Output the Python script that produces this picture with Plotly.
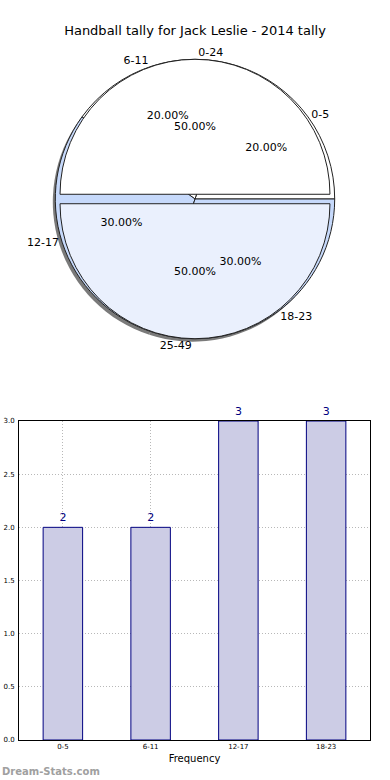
import plotly.graph_objects as go

title = "Handball tally for Jack Leslie - 2014 tally"
half_labels = ["0-24", "25-49"]
half_values = [5, 5]
age_labels = ["0-5", "6-11", "12-17", "18-23"]
age_values = [2, 2, 3, 3]

FONT = "DejaVu Sans"
W, H = 390, 780

def px_dom(x0, x1, y0, y1):
    return dict(x=[x0 / W, x1 / W], y=[1 - y1 / H, 1 - y0 / H])

def start_rot(vals):
    # plotly (counterclockwise): first slice ends at `rotation`; make it start at 3 o'clock
    return 90 - 360.0 * vals[0] / sum(vals)

rot_half = start_rot(half_values)
rot_age = start_rot(age_values)

pie_dom = px_dom(55.3, 334.7, 59.3, 338.7)
shadow_dom = px_dom(52.8, 332.2, 62.3, 341.7)

fig = go.Figure()

# shadow
fig.add_trace(go.Pie(values=age_values, labels=age_labels, sort=False, direction="counterclockwise",
                     rotation=rot_age, domain=shadow_dom, textinfo="none", hoverinfo="skip",
                     marker=dict(colors=["#7a7a7a"] * 4, line=dict(width=0)), showlegend=False))
# 4-slice pie (underneath)
fig.add_trace(go.Pie(values=age_values, labels=age_labels, sort=False, direction="counterclockwise",
                     rotation=rot_age, domain=pie_dom, textinfo="none",
                     marker=dict(colors=["#ffffff", "#ffffff", "#c6d9fb", "#c6d9fb"],
                                 line=dict(color="#222222", width=1)), showlegend=False))
# 50/50 pie on top, exploded
fig.add_trace(go.Pie(values=half_values, labels=half_labels, sort=False, direction="counterclockwise",
                     rotation=rot_half, domain=pie_dom, pull=[0.035, 0.035],
                     texttemplate="%{percent:.2%}", textposition="inside",
                     insidetextorientation="horizontal",
                     textfont=dict(family=FONT, size=11, color="#000000"),
                     marker=dict(colors=["#ffffff", "#eaf0fd"], line=dict(color="#222222", width=1)),
                     showlegend=False))
# percentages of 4-slice pie
fig.add_trace(go.Pie(values=age_values, labels=age_labels, sort=False, direction="counterclockwise",
                     rotation=rot_age, domain=pie_dom, texttemplate="%{percent:.2%}", textposition="inside",
                     insidetextorientation="horizontal",
                     textfont=dict(family=FONT, size=11, color="#000000"), hoverinfo="skip",
                     marker=dict(colors=["rgba(0,0,0,0)"] * 4, line=dict(width=0)), showlegend=False))
# outside labels
fig.add_trace(go.Pie(values=age_values, labels=age_labels, sort=False, direction="counterclockwise",
                     rotation=rot_age, domain=pie_dom, texttemplate="%{label}", textposition="outside",
                     textfont=dict(family=FONT, size=11, color="#000000"), hoverinfo="skip",
                     marker=dict(colors=["rgba(0,0,0,0)"] * 4, line=dict(width=0)), showlegend=False))
fig.add_trace(go.Pie(values=half_values, labels=half_labels, sort=False, direction="counterclockwise",
                     rotation=rot_half, domain=pie_dom, pull=[0.035, 0.035], texttemplate="%{label}",
                     textposition="outside",
                     textfont=dict(family=FONT, size=11, color="#000000"), hoverinfo="skip",
                     marker=dict(colors=["rgba(0,0,0,0)"] * 2, line=dict(width=0)), showlegend=False))

# bar chart
fig.add_trace(go.Bar(x=age_labels, y=age_values, width=0.45, text=[str(v) for v in age_values],
                     textposition="outside", cliponaxis=False,
                     textfont=dict(family=FONT, size=11, color="#000080"),
                     marker=dict(color="#ccccE5", line=dict(color="#000080", width=1)),
                     showlegend=False))

bx = [19 / W, 370 / W]
by = [1 - 740 / H, 1 - 421 / H]
grid = dict(showgrid=True, gridcolor="#b8b8b8", griddash="1px,2px", gridwidth=1)
fig.update_layout(
    width=W, height=H,
    margin=dict(l=0, r=0, t=0, b=0, autoexpand=False),
    paper_bgcolor="white", plot_bgcolor="white",
    font=dict(family=FONT, color="#000000"),
    title=dict(text=title, x=0.5, xanchor="center", y=1 - 30 / H, yanchor="middle",
               font=dict(family=FONT, size=13, color="#000000"), automargin=False),
    xaxis=dict(domain=bx, range=[-0.5, 3.5], showline=True, linecolor="#000000", linewidth=1,
               mirror=True, ticks="", automargin=False, tickfont=dict(size=7, color="#000000"),
               title=dict(text="Frequency", font=dict(size=10, color="#000000"), standoff=4), **grid),
    yaxis=dict(domain=by, range=[0, 3], dtick=0.5, tickformat=".1f", showline=True,
               linecolor="#000000", linewidth=1, mirror=True, zeroline=False, ticks="",
               automargin=False, ticklabelstandoff=2,
               tickfont=dict(size=7, color="#000000"), **grid),
    annotations=[dict(text="<b>Dream-Stats.com</b>", x=0, xref="paper", xanchor="left",
                      y=1 - 771 / H, yref="paper", yanchor="middle", showarrow=False,
                      font=dict(family=FONT, size=10, color="#a0a0a0"))],
)

fig.write_html("out.html", config={"displayModeBar": False},
               post_script="document.body.style.margin='0';document.body.style.padding='0';")
